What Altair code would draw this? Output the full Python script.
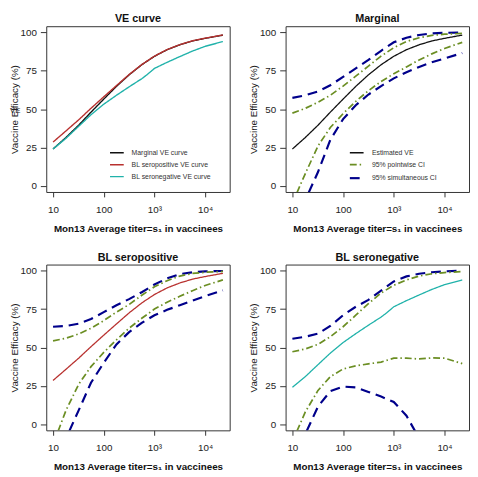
import altair as alt
import pandas as pd

FONT = "Liberation Sans"

# ---------------- data ----------------
# Mon13 average titer in vaccinees (x) and vaccine efficacy in % (y)
TITER = [10, 18, 32, 56, 100, 178, 316, 562, 1000, 1778, 3162, 5623, 10000, 22400]

VE_MARGINAL = [24, 31.5, 39.5, 48, 56.5, 64.8, 72.3, 78.9, 84.4, 88.7, 91.9, 94.4, 96.1, 98.2]
VE_SEROPOS = [28.5, 35.8, 43, 50.5, 58, 65.3, 72.5, 79, 84.5, 88.8, 92, 94.5, 96.2, 98.3]
TITER_NEG = [10, 18, 32, 56, 100, 178, 316, 562, 708, 1000, 1778, 3162, 5623, 10000, 22400]
VE_SERONEG = [24, 31, 38.8, 46.3, 53.2, 59, 64.5, 69.8, 72.3, 76.5, 80.5, 84.2, 87.8, 90.9, 94]

# Marginal: confidence bands
MARG_SIM_UP = [57.3, 59, 61.5, 65.5, 71, 76.5, 82, 88, 93.5, 96.5, 98.3, 99.3, 99.7, 99.9]
MARG_PW_UP = [47.4, 50.5, 54.5, 59, 65, 71.5, 78, 84.5, 90, 94, 96.5, 98, 98.8, 99.3]
MARG_PW_LO_T = [12.3, 18, 32, 56, 100, 178, 316, 562, 1000, 1778, 3162, 5623, 10000, 22400]
MARG_PW_LO = [-4.5, 8, 26, 38, 47, 55, 62, 68, 73, 77.5, 82, 86, 89.5, 93.5]
MARG_SIM_LO_T = [20.9, 32, 56, 100, 178, 316, 562, 1000, 1778, 3162, 5623, 10000, 22400]
MARG_SIM_LO = [-4.5, 9, 30, 43.5, 52.5, 59.5, 65, 70, 74, 77.5, 80.5, 83, 86.5]

# BL seropositive: confidence bands
POS_SIM_UP = [63.5, 64, 65.5, 68.5, 73, 77.5, 81.5, 86, 91, 95, 97.8, 99, 99.6, 99.8]
POS_PW_UP = [54.3, 56, 58.8, 62.5, 67.5, 73, 78, 84, 89.5, 93.5, 96.5, 98.2, 99, 99.5]
POS_PW_LO_T = [12.6, 18, 32, 56, 100, 178, 316, 562, 1000, 1778, 3162, 5623, 10000, 22400]
POS_PW_LO = [-4.5, 9, 26, 37.5, 46.8, 55, 62.5, 69, 75, 79.5, 83.3, 87, 90.4, 94]
POS_SIM_LO_T = [20.9, 32, 56, 100, 178, 316, 562, 1000, 1778, 3162, 5623, 10000, 22400]
POS_SIM_LO = [-4.5, 9, 27, 40, 52, 60, 66, 71, 74.5, 77.5, 80.5, 83.5, 87.2]

# BL seronegative: confidence bands
NEG_SIM_UP = [55.7, 57, 59, 64, 71, 76.5, 81, 87, 93, 96.3, 98, 99, 99.6, 100]
NEG_PW_UP = [47.2, 49, 52, 57, 63.5, 71, 78.5, 85.5, 90.5, 94, 96.5, 98, 98.8, 99.4]
NEG_PW_LO_T = [12.3, 18, 32, 56, 100, 178, 316, 562, 1000, 1778, 3162, 5623, 10000, 22400]
NEG_PW_LO = [-4.5, 8, 22, 31, 36, 38, 39.3, 40.5, 43, 43, 42.5, 43.2, 43, 39.5]
NEG_SIM_LO_T = [19.1, 32, 56, 100, 178, 316, 562, 1000, 1778, 2630]
NEG_SIM_LO = [-4.5, 11.5, 21.5, 24.5, 24, 21, 18, 14.5, 5.5, -4.5]

X_TICKS = [10, 100, 1000, 10000]
Y_TICKS = [0, 25, 50, 75, 100]

CURVE_NAMES = ["Marginal VE curve", "BL seropositive VE curve", "BL seronegative VE curve"]
BAND_NAMES = ["Estimated VE", "95% pointwise CI", "95% simultaneous CI"]
BLACK, RED, TEAL = "#111111", "#B8312F", "#20B2AA"
GREEN, BLUE = "#6B8E23", "#00008B"
DASH_SOLID, DASH_DOTDASH, DASH_LONG = [1, 0], [7, 3, 1.5, 3], [10, 6]

W, H = 187, 169


def frame(name, part, xs, ys):
    return pd.DataFrame({"titer": xs, "ve": ys, "series": name, "part": part})


x_axis = alt.Axis(
    values=X_TICKS,
    labelExpr="datum.value == 10 ? '10' : datum.value == 100 ? '100' : "
              "datum.value == 1000 ? '10³' : '10⁴'",
    title="Mon13 Average titer=s₁ in vaccinees",
    titleFontWeight="bold", titleFontSize=10, titlePadding=9,
    labelFontSize=10, labelPadding=8, tickSize=5, labelFlush=False,
    grid=False, domain=False, tickColor="#333", labelColor="#222",
    titleColor="#111",
)
y_axis = alt.Axis(
    values=Y_TICKS, title="Vaccine Efficacy (%)",
    titleFontWeight="normal", titleFontSize=10, titlePadding=1,
    labelFontSize=10, labelPadding=4, tickSize=6,
    grid=False, domain=False, tickColor="#333", labelColor="#222",
    titleColor="#222",
)

X = alt.X("titer:Q", scale=alt.Scale(type="log", domain=[10 ** 0.866, 10 ** 4.484], nice=False), axis=x_axis)
Y = alt.Y("ve:Q", scale=alt.Scale(domain=[-4, 104], nice=False, zero=False), axis=y_axis)


def make_legend(show, lx=64, ly=121):
    if not show:
        return None
    return alt.Legend(
        title=None, orient="none", legendX=lx, legendY=ly,
        symbolType="stroke", symbolSize=196, rowPadding=1.2,
        labelFontSize=7, labelColor="#333", labelOffset=7, labelFont=FONT,
    )


def panel(pieces, title, names, colors, dashes, widths, show_legend, extra=None):
    leg = make_legend(show_legend)
    enc = dict(
        x=X, y=Y,
        color=alt.Color("series:N", scale=alt.Scale(domain=names, range=colors), legend=leg),
        strokeDash=alt.StrokeDash("series:N", scale=alt.Scale(domain=names, range=dashes), legend=leg),
        strokeWidth=alt.StrokeWidth("series:N", scale=alt.Scale(domain=names, range=widths), legend=leg),
        detail="part:N",
    )
    layers = [alt.Chart(frame(*p)).mark_line(clip=True).encode(**enc) for p in pieces]
    if extra is not None:
        layers.append(extra)
    return alt.layer(*layers).properties(width=W, height=H, title=alt.TitleParams(title))


ve_note = alt.Chart(alt.Data(values=[{"t": "VE"}])).mark_text(
    align="left", baseline="middle", fontSize=8, color="#222", font=FONT
).encode(x=alt.value(-37), y=alt.value(86), text="t:N")

p1 = panel([
    (CURVE_NAMES[0], "a", TITER, VE_MARGINAL),
    (CURVE_NAMES[1], "b", TITER, VE_SEROPOS),
    (CURVE_NAMES[2], "c", TITER_NEG, VE_SERONEG),
], "VE curve", CURVE_NAMES, [BLACK, RED, TEAL],
    [DASH_SOLID, DASH_SOLID, DASH_SOLID], [1.4, 1.4, 1.4], True, extra=ve_note)


def band_panel(center_name, center_t, center_vals, center_color, sim_up, pw_up, pw_lo_t, pw_lo,
               sim_lo_t, sim_lo, title, show_legend):
    names = [center_name, BAND_NAMES[1], BAND_NAMES[2]]
    pieces = [
        (BAND_NAMES[2], "su", TITER, sim_up),
        (BAND_NAMES[2], "sl", sim_lo_t, sim_lo),
        (BAND_NAMES[1], "pu", TITER, pw_up),
        (BAND_NAMES[1], "pl", pw_lo_t, pw_lo),
        (center_name, "c", center_t, center_vals),
    ]
    return panel(pieces, title, names, [center_color, GREEN, BLUE],
                 [DASH_SOLID, DASH_DOTDASH, DASH_LONG], [1.3, 2.2, 3.6], show_legend)


p2 = band_panel("Estimated VE", TITER, VE_MARGINAL, BLACK, MARG_SIM_UP, MARG_PW_UP,
                MARG_PW_LO_T, MARG_PW_LO, MARG_SIM_LO_T, MARG_SIM_LO, "Marginal", True)
p3 = band_panel("BL seropositive", TITER, VE_SEROPOS, RED, POS_SIM_UP, POS_PW_UP,
                POS_PW_LO_T, POS_PW_LO, POS_SIM_LO_T, POS_SIM_LO, "BL seropositive", False)
p4 = band_panel("BL seronegative", TITER_NEG, VE_SERONEG, TEAL, NEG_SIM_UP, NEG_PW_UP,
                NEG_PW_LO_T, NEG_PW_LO, NEG_SIM_LO_T, NEG_SIM_LO, "BL seronegative", False)

chart = alt.concat(
    p1, p2, p3, p4, columns=2, spacing={"row": 74, "column": 57}, bounds="flush"
).resolve_scale(
    color="independent", strokeDash="independent", strokeWidth="independent"
).resolve_legend(
    color="independent", strokeDash="independent", strokeWidth="independent"
).properties(
    padding={"left": 0, "top": 0, "right": 0, "bottom": 0}
).configure(
    font=FONT
).configure_view(
    stroke="#333", strokeWidth=1
).configure_title(
    fontSize=11, fontWeight="bold", color="#111", offset=2, font=FONT
).configure_axis(
    labelFont=FONT, titleFont=FONT
)

chart.save("out.html", embed_options={"renderer": "svg", "actions": False})
